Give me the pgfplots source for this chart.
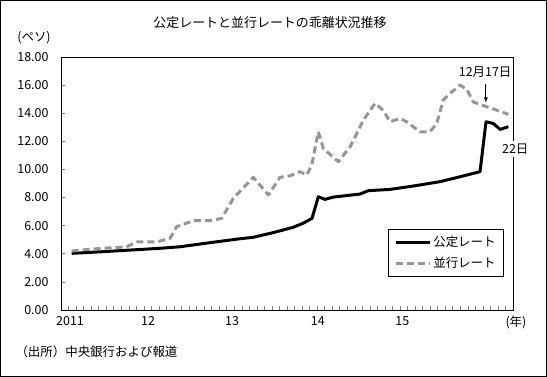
\documentclass[border=0pt]{standalone}
\usepackage{pgfplots}
\pgfplotsset{compat=1.18}
\usepackage{fontspec}
\setmainfont{Noto Sans CJK JP}
\definecolor{pargray}{RGB}{150,150,150}
\begin{document}
\begin{tikzpicture}[font=\fontsize{12.5}{15}\selectfont]
\draw[line width=1bp] (0.5bp,0.5bp) rectangle (546.5bp,376.5bp);
\node at (270bp,354bp) {\fontsize{13}{15}\selectfont 公定レートと並行レートの乖離状況推移};
\node at (34bp,339bp) {(ペソ)};
\node[anchor=west] at (502bp,55bp) {(年)};
\node[anchor=west] at (12bp,25bp) {（出所）中央銀行および報道};
\begin{axis}[
  at={(61bp,67bp)}, anchor=south west, scale only axis,
  width=452bp, height=253bp,
  xmin=0, xmax=60, ymin=0, ymax=18,
  clip=false,
  axis line style={line width=0.8bp},
  xtick={1.2,11.55,22.7,34.1,45.3},
  xticklabels={2011,12,13,14,15},
  major x tick style={draw=none},
  minor xtick={1,2,...,59},
  minor tick length=4bp,
  minor tick style={line width=0.6bp},
  xtick pos=bottom,
  ytick={0,2,...,18},
  ytick pos=left,
  major tick length=4bp,
  ytick style={line width=0.6bp},
  tick align=inside,
  yticklabel style={/pgf/number format/.cd, fixed, fixed zerofill, precision=2, /tikz/.cd, xshift=-9bp},
  xticklabel style={yshift=-3bp},
  /pgf/number format/assume math mode=true,
  legend style={at={(rel axis cs:0.98,0.32)}, anchor=north east, draw=black, line width=0.8bp,
     inner xsep=6bp, inner ysep=5bp, row sep=5bp},
  legend cell align=left,
  legend image code/.code={\draw[#1] (0bp,0bp) -- (34bp,0bp);},
]
\addplot[black, line width=3bp, line join=round] coordinates {
(1.42,4.03) (5.58,4.15) (13.14,4.39) (15.8,4.5) (19.78,4.79) (23.76,5.07)
(25.49,5.17) (28.14,5.5) (30.8,5.88) (32.13,6.17) (33.32,6.52) (34.16,8.06)
(35.05,7.87) (36.11,8.03) (39.7,8.25) (40.8,8.49) (43.67,8.58) (46.77,8.82)
(50.31,9.13) (52.97,9.48) (55.62,9.84) (56.42,13.39) (57.39,13.27) (58.28,12.85)
(59.38,13.04)
};
\addlegendentry{公定レート}
\addplot[pargray, line width=3bp, dash pattern=on 7bp off 4bp, line join=round] coordinates {
(1.42,4.2) (4.29,4.34) (8.72,4.5) (10.05,4.84) (12.7,4.84) (14.47,5.1)
(15.36,5.93) (17.56,6.35) (19.78,6.35) (21.33,6.52) (22.87,7.94) (25.53,9.44)
(27.52,8.18) (29.07,9.44) (30.4,9.55) (31.73,9.84) (32.62,9.6) (33.28,10.3)
(34.16,12.68) (34.82,11.5) (36.81,10.55) (38.36,11.6) (40.13,13.5) (41.68,14.7)
(42.79,14.2) (43.67,13.39) (45.0,13.63) (45.89,13.39) (47.66,12.68) (48.98,12.68)
(49.87,13.27) (50.75,14.94) (51.64,15.41) (52.97,16.0) (53.86,15.7) (54.73,14.8)
(56.51,14.46) (57.84,14.22) (59.38,13.92)
};
\addlegendentry{並行レート}
\coordinate (a22) at (axis cs:60.3,11.45);
\coordinate (a17) at (axis cs:56.3,16.9);
\coordinate (arrtop) at (axis cs:56.4,16.1);
\coordinate (arrbot) at (axis cs:56.4,14.75);
\end{axis}
\node[fill=white, inner sep=3bp] at (a22) {22日};
\node at (a17) {12月17日};
\draw[-latex, line width=0.8bp] (arrtop) -- (arrbot);
\end{tikzpicture}
\end{document}
